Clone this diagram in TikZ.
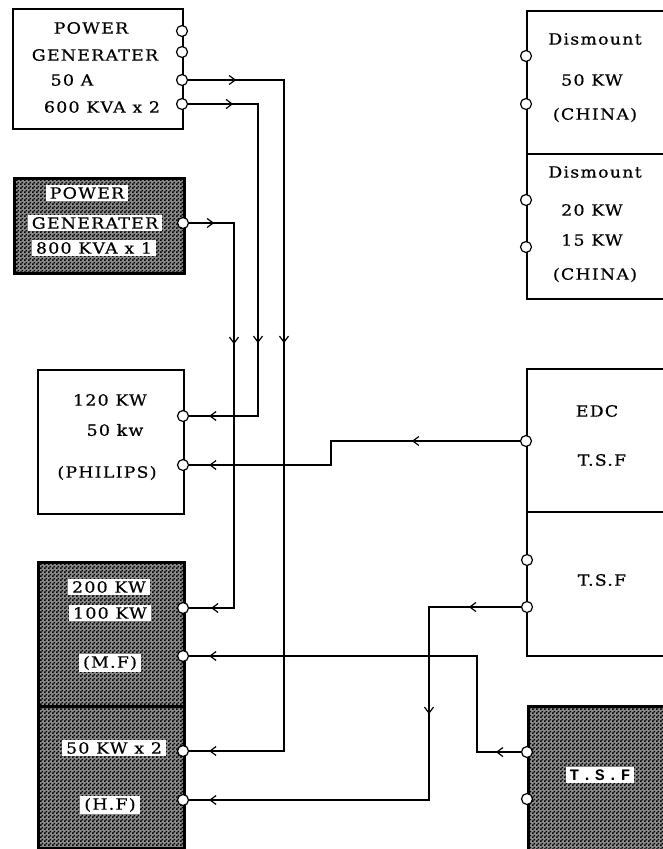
\documentclass[tikz,border=0pt]{standalone}
\usepackage{fontspec}
\setmainfont{DejaVu Serif}[FakeStretch=1.12,LetterSpace=8,FakeBold=0.6]
\newfontfamily\twfont{Liberation Mono}[LetterSpace=20]
\usetikzlibrary{patterns,arrows.meta,decorations.markings}
\pgfdeclarepatternformonly{finecheck}{\pgfqpoint{0pt}{0pt}}{\pgfqpoint{4pt}{4pt}}{\pgfqpoint{4pt}{4pt}}{%
  \pgfpathrectangle{\pgfpointorigin}{\pgfqpoint{2pt}{2pt}}%
  \pgfpathrectangle{\pgfqpoint{2pt}{2pt}}{\pgfqpoint{2pt}{2pt}}%
  \pgfusepath{fill}}
\begin{document}
\begin{tikzpicture}[x=1pt,y=-1pt,
  box/.style={draw, line width=1.5pt, inner sep=0pt, anchor=north west},
  shbox/.style={draw, line width=2.6pt, inner sep=0pt, anchor=north west, fill=black!45,
    postaction={pattern=finecheck, pattern color=black}},
  lbl/.style={font=\fontsize{15.5}{17}\selectfont, inner sep=0pt},
  wlbl/.style={lbl, fill=white, inner xsep=4pt, inner ysep=2pt},
  port/.style={circle, draw, fill=white, line width=1.2pt, inner sep=0pt, minimum size=11pt},
  conn/.style={line width=1.4pt},
  am/.style={postaction={decorate, decoration={markings,
    mark=at position #1 with {\arrow[line width=1.2pt]{Straight Barb[length=6pt,width=9pt]}}}}}]
\useasboundingbox (0,0) rectangle (663,849);
\clip (0,0) rectangle (663,849);
\fill[white] (0,0) rectangle (663,849);
% boxes
\node[box, minimum width=170pt, minimum height=120pt] (gen1) at (12,8) {};
\node[shbox, minimum width=170pt, minimum height=95pt] (gen2) at (13,177) {};
\node[box, minimum width=146pt, minimum height=144pt] (phil) at (37,369) {};
\node[shbox, minimum width=146pt, minimum height=144pt] (mf) at (37,561) {};
\node[shbox, minimum width=146pt, minimum height=142pt] (hf) at (37,705) {};
\node[box, minimum width=180pt, minimum height=143pt] (ch1) at (526,10) {};
\node[box, minimum width=180pt, minimum height=145pt] (ch2) at (526,153) {};
\node[box, minimum width=180pt, minimum height=143pt] (edc) at (526,368) {};
\node[box, minimum width=180pt, minimum height=144pt] (tsf2) at (526,511) {};
\node[shbox, minimum width=180pt, minimum height=160pt] (tsf3) at (527,705) {};
% labels
\node[lbl] (t11) at (91,28) {POWER};
\node[lbl] (t12) at (95,55) {GENERATER};
\node[lbl] (t13) at (72,80) {50 A};
\node[lbl] (t14) at (102,107) {600 KVA x 2};
\node[wlbl] (t21) at (87,193) {POWER};
\node[wlbl] (t22) at (95,223) {GENERATER};
\node[wlbl] (t23) at (94,248) {800 KVA x 1};
\node[lbl] (t31) at (110,400) {120 KW};
\node[lbl] (t32) at (115,430) {50 kw};
\node[lbl] (t33) at (107,473) {(PHILIPS)};
\node[wlbl] (t41) at (109,587) {200 KW};
\node[wlbl] (t42) at (110,613) {100 KW};
\node[wlbl] (t43) at (110,663) {(M.F)};
\node[wlbl] (t51) at (114,748) {50 KW x 2};
\node[wlbl] (t52) at (110,805) {(H.F)};
\node[lbl] (u11) at (595,39) {Dismount};
\node[lbl] (u12) at (592,80) {50 KW};
\node[lbl] (u13) at (595,115) {(CHINA)};
\node[lbl] (u21) at (595,172) {Dismount};
\node[lbl] (u22) at (592,210) {20 KW};
\node[lbl] (u23) at (592,240) {15 KW};
\node[lbl] (u24) at (595,275) {(CHINA)};
\node[lbl] (u31) at (597,411) {EDC};
\node[lbl] (u32) at (602,460) {T.S.F};
\node[lbl] (u41) at (602,580) {T.S.F};
\node[fill=white, inner xsep=4pt, inner ysep=3pt, font=\twfont\bfseries\fontsize{16}{18}\selectfont] (u51) at (600,775) {T.S.F};
% ports
\node[port] (p11) at (182,31) {};
\node[port] (p12) at (182,52) {};
\node[port] (p13) at (182,80) {};
\node[port] (p14) at (182,104) {};
\node[port] (p21) at (183,223) {};
\node[port] (p31) at (183,416) {};
\node[port] (p32) at (183,465) {};
\node[port] (p41) at (183,608) {};
\node[port] (p42) at (183,656) {};
\node[port] (p51) at (183,751) {};
\node[port] (p52) at (183,800) {};
\node[port] (q11) at (526,56) {};
\node[port] (q12) at (526,104) {};
\node[port] (q21) at (526,200) {};
\node[port] (q22) at (526,247) {};
\node[port] (q31) at (526,441) {};
\node[port] (q41) at (527,560) {};
\node[port] (q42) at (527,607) {};
\node[port] (q51) at (527,752) {};
\node[port] (q52) at (527,799) {};
% bends
\coordinate (b1) at (284,80);
\coordinate (b2) at (258,104);
\coordinate (b3) at (234,223);
\coordinate (b4) at (331,441);
\coordinate (b5) at (429,607);
\coordinate (b6) at (477,752);
% connectors
\draw[conn, am=48pt, am=359pt, am=-20pt] (p13) -- (b1) |- (p51);
\draw[conn, am=45pt, am=309pt, am=-20pt] (p14) -- (b2) |- (p31);
\draw[conn, am=25pt, am=166pt, am=-22pt] (p21) -- (b3) |- (p41);
\draw[conn, am=108pt, am=-20pt] (q31) -- (b4) |- (p32);
\draw[conn, am=52pt, am=199pt, am=-20pt] (q42) -- (b5) |- (p52);
\draw[conn, am=25pt, am=-20pt] (q51) -- (b6) |- (p42);
\end{tikzpicture}
\end{document}
